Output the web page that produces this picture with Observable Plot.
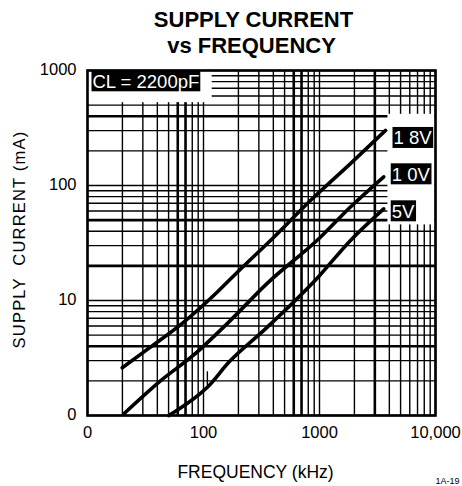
<!DOCTYPE html>
<html><head><meta charset="utf-8">
<script src="https://cdn.jsdelivr.net/npm/d3@7"></script>
<script src="https://cdn.jsdelivr.net/npm/@observablehq/plot@0.6"></script>
<style>body{margin:0;background:#fff} svg{display:block}</style>
</head><body><div id="chart"></div>
<script>
// ---- data ----
const seriesNames = ["1 8V", "1 0V", "5V"];
const freqA = [19.9, 34.9, 67.6, 131, 208, 404, 836, 1849, 3707];
const currA = [2.6, 3.93, 6.49, 11.8, 18.7, 35.5, 74, 155, 301];
const freqB = [20.5, 42.6, 82.4, 165, 354, 986, 1849, 3580];
const currB = [1.03, 2.0, 3.36, 6.49, 14.1, 34.4, 65, 119];
const freqC = [50.2, 94.2, 108, 165, 342, 986, 1849, 3580];
const currC = [1.0, 1.56, 1.76, 2.9, 5.67, 16.2, 33.3, 62.7];
const blipFreq = [108];
const blipLow = [1.8];
const blipHigh = [2.4];
const xTickValues = [10, 100, 1000, 10000];
const xTickLabels = ["0", "100", "1000", "10,000"];
const yTickValues = [1, 10, 100, 1000];
const yTickLabels = ["0", "10", "100", "1000"];
const boldX = [60, 70, 600, 700, 3000];
const boldY = [4, 20, 50, 400];
// blank (unruled) areas of the chart, in data units
const maskF1 = [10, 3850];
const maskF2 = [120, 10000];
const maskI1 = [520, 45];
const maskI2 = [1000, 420];

// ---- build tables ----
const freqs = [freqA, freqB, freqC];
const currs = [currA, currB, currC];
const lines = [];
seriesNames.forEach((s, k) => freqs[k].forEach((f, i) => lines.push({series: s, f, I: currs[k][i]})));
const ends = seriesNames.map((s, k) => ({series: s, f: freqs[k][freqs[k].length - 1], I: currs[k][currs[k].length - 1]}));
const masks = maskF1.map((d, i) => ({x1: d, x2: maskF2[i], y1: maskI1[i], y2: maskI2[i]}));
const blips = blipFreq.map((d, i) => ({f: d, y1: blipLow[i], y2: blipHigh[i]}));
const xGrid = d3.scaleLog().domain([10, 10000]).ticks();
const yGrid = d3.scaleLog().domain([1, 1000]).ticks();
const xLab = new Map(xTickValues.map((d, i) => [d, xTickLabels[i]]));
const yLab = new Map(yTickValues.map((d, i) => [d, yTickLabels[i]]));

const labelDy = [14, 4, 9];
const FONT = "Liberation Sans, Arial, Helvetica, sans-serif";

const chart = Plot.plot({
  width: 462, height: 486,
  marginLeft: 87, marginRight: 27, marginTop: 70, marginBottom: 71,
  style: {fontFamily: FONT, background: "white", color: "black"},
  x: {type: "log", domain: [10, 10000], axis: null},
  y: {type: "log", domain: [1, 1000], axis: null},
  marks: [
    Plot.ruleX(xGrid, {x: d => d, stroke: "black", strokeWidth: d => boldX.includes(d) ? 2.6 : 1.4}),
    Plot.ruleY(yGrid, {y: d => d, stroke: "black", strokeWidth: d => boldY.includes(d) ? 2.6 : 1.4}),
    Plot.rect(masks, {x1: "x1", x2: "x2", y1: "y1", y2: "y2", fill: "white", inset: 0.5}),
    Plot.line(lines, {x: "f", y: "I", z: "series", stroke: "black", strokeWidth: 3.6, curve: "monotone-x"}),
    Plot.ruleX(blips, {x: "f", y1: "y1", y2: "y2", stroke: "black", strokeWidth: 1.4}),
    Plot.frame({stroke: "black", strokeWidth: 2.6}),
    // tick labels
    Plot.text(xTickValues, {x: d => d, text: d => xLab.get(d), frameAnchor: "bottom", lineAnchor: "bottom", dy: 22, fontSize: 16.5, fill: "black"}),
    Plot.text(yTickValues, {y: d => d, text: d => yLab.get(d), frameAnchor: "left", textAnchor: "end", lineAnchor: "bottom", dx: -11, dy: 4, fontSize: 16.5, fill: "black"}),
    // series labels
    ...ends.map((e, k) => Plot.text([e], {x: "f", y: "I", text: "series", textAnchor: "start", lineAnchor: "bottom", dx: 8, dy: labelDy[k], fontSize: 18.5, fill: "white"})),
    Plot.text(["CL = 2200pF"], {frameAnchor: "top-left", text: d => d, textAnchor: "start", lineAnchor: "bottom", dx: 5, dy: 17.3, fontSize: 18.5, fill: "white"}),
    // titles
    Plot.text(["SUPPLY CURRENT"], {frameAnchor: "top", text: d => d, lineAnchor: "bottom", dx: -8, dy: -43.3, fontSize: 22, fontWeight: "bold", fill: "black"}),
    Plot.text(["vs FREQUENCY"], {frameAnchor: "top", text: d => d, lineAnchor: "bottom", dx: -10, dy: -17.3, fontSize: 22, fontWeight: "bold", fill: "black"}),
    Plot.text(["FREQUENCY (kHz)"], {frameAnchor: "bottom", text: d => d, lineAnchor: "bottom", dx: -6, dy: 62, fontSize: 17.5, fill: "black"}),
    Plot.text(["1A-19"], {frameAnchor: "bottom-right", text: d => d, textAnchor: "start", lineAnchor: "bottom", dx: 0, dy: 68, fontSize: 9, fill: "black"}),
    Plot.text(["SUPPLY\u00A0\u00A0CURRENT (mA)"], {frameAnchor: "left", text: d => d, rotate: -90, textAnchor: "middle", lineAnchor: "middle", dx: -68, dy: -3.5, fontSize: 16.5, fill: "black"})
  ]
});
document.getElementById("chart").append(chart);

// letter spacing on the y-axis title
d3.select(chart).selectAll("text").filter(function() { return this.textContent.startsWith("SUPPLY\u00A0"); })
  .style("letter-spacing", "1.2px");

// black boxes behind the white labels
const boxed = new Set([...seriesNames, "CL = 2200pF"]);
d3.select(chart).selectAll("text").each(function() {
  if (!boxed.has(this.textContent)) return;
  const b = this.getBBox();
  const r = document.createElementNS("http://www.w3.org/2000/svg", "rect");
  r.setAttribute("x", b.x - 1);
  r.setAttribute("y", b.y - 0.5);
  r.setAttribute("width", b.width + 2);
  r.setAttribute("height", b.height);
  r.setAttribute("fill", "black");
  const t = this.getAttribute("transform");
  if (t) r.setAttribute("transform", t);
  this.parentNode.insertBefore(r, this);
});
</script>
</body></html>
